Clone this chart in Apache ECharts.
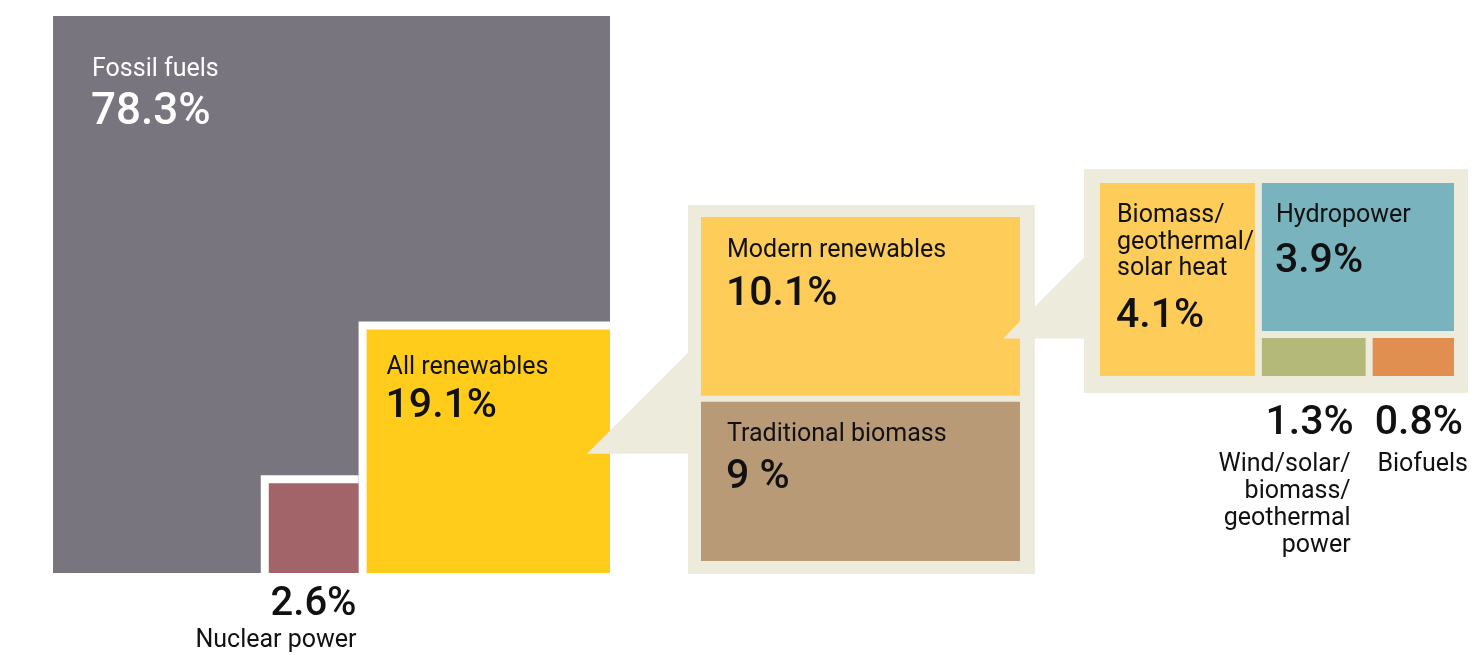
<!DOCTYPE html>
<html><head><meta charset="utf-8">
<script src="https://cdn.jsdelivr.net/npm/echarts@6/dist/echarts.min.js"></script>
<style>html,body{margin:0;padding:0;background:#fff}#c{width:1477px;height:655px}</style>
</head><body><div id="c"></div>
<script>
// ---- data ----
const categories = ['Fossil fuels', 'All renewables', 'Nuclear power', 'Modern renewables', 'Traditional biomass',
  'Biomass/\ngeothermal/\nsolar heat', 'Hydropower', 'Wind/solar/\nbiomass/\ngeothermal\npower', 'Biofuels'];
const shares = [78.3, 19.1, 2.6, 10.1, 9, 4.1, 3.9, 1.3, 0.8];
const shareLabels = ['78.3%', '19.1%', '2.6%', '10.1%', '9 %', '4.1%', '3.9%', '1.3%', '0.8%'];
const level1 = [0, 1, 2];
const level2 = [3, 4];      // split of All renewables
const level3 = [5, 6, 7, 8]; // split of Modern renewables

// ---- styles ----
const colors = ['#78757F', '#FFCC1C', '#A26468', '#FDCC59', '#B89A77', '#FDCC59', '#79B4BE', '#B4B97A', '#E08F51'];
const BEIGE = '#EDEBDC';
const FONT = 'Roboto, "Noto Sans", sans-serif';

// ---- layout derived from the values ----
const K = 55.7;                       // px per sqrt(percentage point): area ~ share
const side = v => K * Math.sqrt(v);
function computeLayout() {
  const R = [];
  const right = 610, bottom = 573, g1 = 8;
  const S = side(shares[0] + shares[1] + shares[2]);
  R[0] = { x: right - S, y: bottom - S, w: S, h: S };
  const sr = side(shares[1]);
  R[1] = { x: right - sr, y: bottom - sr, w: sr, h: sr };
  const sn = side(shares[2]);
  R[2] = { x: R[1].x - g1 - sn, y: bottom - sn, w: sn, h: sn };
  // panel 2 : modern vs traditional, heights proportional to shares
  const p2 = { x: 701, y: 217, w: 319, h: 344, gap: 6 };
  const hm = (p2.h - p2.gap) * shares[3] / (shares[3] + shares[4]);
  R[3] = { x: p2.x, y: p2.y, w: p2.w, h: hm };
  R[4] = { x: p2.x, y: p2.y + hm + p2.gap, w: p2.w, h: p2.h - hm - p2.gap };
  // panel 3 : breakdown of modern renewables
  const p3 = { x: 1100, y: 183, w: 354, h: 193, gap: 7, row: 38 };
  const hh = p3.h - p3.row - p3.gap;
  const Wg = p3.w - p3.gap;
  const w1 = shares[5] * hh * Wg / (p3.h * shares[6] + shares[5] * hh);
  R[5] = { x: p3.x, y: p3.y, w: w1, h: p3.h };
  const x2 = p3.x + w1 + p3.gap, w2 = p3.x + p3.w - x2;
  R[6] = { x: x2, y: p3.y, w: w2, h: hh };
  const sw = Math.sqrt(shares[7]), sb = Math.sqrt(shares[8]);
  const ww = (w2 - p3.gap) * sw / (sw + sb);
  R[7] = { x: x2, y: p3.y + hh + p3.gap, w: ww, h: p3.row };
  R[8] = { x: x2 + ww + p3.gap, y: R[7].y, w: w2 - ww - p3.gap, h: p3.row };
  const bg2 = { x: p2.x - 13, y: p2.y - 12, w: p2.w + 13 + 15, h: p2.h + 12 + 13 };
  const bg3 = { x: p3.x - 16, y: p3.y - 14, w: p3.w + 16 + 14, h: p3.h + 14 + 17 };
  // callout wedges (45 degrees)
  const t1 = { x: R[1].x + R[1].w - 23, y: R[1].y + R[1].h * 0.51 };
  const t2 = { x: R[3].x + R[3].w - 17, y: R[3].y + R[3].h * 0.68 };
  const wedge = (t, bx) => [[t.x, t.y], [bx, t.y - (bx - t.x)], [bx, t.y]];
  return { R, bg2, bg3, w1: wedge(t1, bg2.x + 1), w2: wedge(t2, bg3.x + 1) };
}
const L = computeLayout();

// label placement (style): inside cells or below them
const labelCfg = {
  0: { mode: 'in', dx: 39, dyName: 51, dyNum: 92.5, nameSize: 25, numSize: 44, fill: '#fff' },
  1: { mode: 'in', dx: 20, dyName: 36, dyNum: 73, nameSize: 25, numSize: 41, fill: '#111' },
  2: { mode: 'below', dxR: -2, base: () => L.R[2].y + L.R[2].h, dyNum: 28, dyName: 65.5, nameSize: 25, numSize: 40, fill: '#111', lh: 27 },
  3: { mode: 'in', dx: 26, dyName: 31.5, dyNum: 73.5, nameSize: 25, numSize: 41, fill: '#111' },
  4: { mode: 'in', dx: 26, dyName: 31, dyNum: 71.5, nameSize: 25, numSize: 41, fill: '#111' },
  5: { mode: 'in', dx: 17, dyName: 30.5, dyNum: 129.5, nameSize: 25, numSize: 41, fill: '#111', lh: 26.5 },
  6: { mode: 'in', dx: 14, dyName: 30.5, dyNum: 74.5, nameSize: 25, numSize: 41, fill: '#111' },
  7: { mode: 'below', dxR: -12, dxRName: -15, base: () => L.bg3.y + L.bg3.h, dyNum: 27, dyName: 69.5, nameSize: 25, numSize: 41, fill: '#111', lh: 27 },
  8: { mode: 'below', dxR: 9, dxRName: 14, base: () => L.bg3.y + L.bg3.h, dyNum: 27, dyName: 69.5, nameSize: 25, numSize: 41, fill: '#111', lh: 27 }
};

// y is the desired cap-height centre of the first line
function textEl(x, y, text, size, weight, fill, align, lh) {
  const lineH = lh || size;
  return {
    type: 'text', x: x, y: y - lineH / 2 + 0.1 * size, z2: 50,
    style: { text: text, fill: fill, fontSize: size, fontWeight: weight, fontFamily: FONT,
      align: align, verticalAlign: 'top', lineHeight: lineH }
  };
}

function renderCell(params, api) {
  const i = api.value(0);
  const r = L.R[i];
  const c = labelCfg[i];
  const ch = [];
  const nested = (i === 1 || i === 2);
  if (nested) {
    ch.push({ type: 'rect', z2: 3, shape: { x: r.x - 8, y: r.y - 8, width: r.w + 8, height: r.h + 8 }, style: { fill: '#fff' } });
  }
  ch.push({ type: 'rect', z2: nested ? 4 : 1, shape: { x: r.x, y: r.y, width: r.w, height: r.h }, style: { fill: colors[i] } });
  if (c.mode === 'in') {
    ch.push(textEl(r.x + c.dx, r.y + c.dyName, categories[i], c.nameSize, 400, c.fill, 'left', c.lh));
    ch.push(textEl(r.x + c.dx - 1, r.y + c.dyNum, shareLabels[i], c.numSize, 500, c.fill, 'left'));
  } else {
    const b = c.base();
    const xr = r.x + r.w;
    ch.push(textEl(xr + c.dxR, b + c.dyNum, shareLabels[i], c.numSize, 500, c.fill, 'right'));
    ch.push(textEl(xr + (c.dxRName !== undefined ? c.dxRName : c.dxR), b + c.dyName, categories[i], c.nameSize, 400, c.fill, 'right', c.lh));
  }
  return { type: 'group', children: ch };
}

function renderCallout(bg, wedge) {
  return function () {
    return { type: 'group', children: [
      { type: 'rect', z2: 1, shape: { x: bg.x, y: bg.y, width: bg.w, height: bg.h }, style: { fill: BEIGE } },
      { type: 'polygon', z2: 2, shape: { points: wedge }, style: { fill: BEIGE } }
    ] };
  };
}

function cellSeries(idx, z) {
  return {
    type: 'custom', coordinateSystem: 'none', z: z, silent: true,
    data: idx.map(i => ({ name: categories[i], value: [i, shares[i]] })),
    renderItem: renderCell
  };
}

const chart = echarts.init(document.getElementById('c'), null, { renderer: 'canvas' });
chart.setOption({
  animation: false,
  backgroundColor: '#fff',
  series: [
    cellSeries(level1, 2),
    { type: 'custom', coordinateSystem: 'none', z: 3, silent: true, data: [[1]], renderItem: renderCallout(L.bg2, L.w1) },
    cellSeries(level2, 4),
    { type: 'custom', coordinateSystem: 'none', z: 5, silent: true, data: [[3]], renderItem: renderCallout(L.bg3, L.w2) },
    cellSeries(level3, 6)
  ]
});
</script>
</body></html>
